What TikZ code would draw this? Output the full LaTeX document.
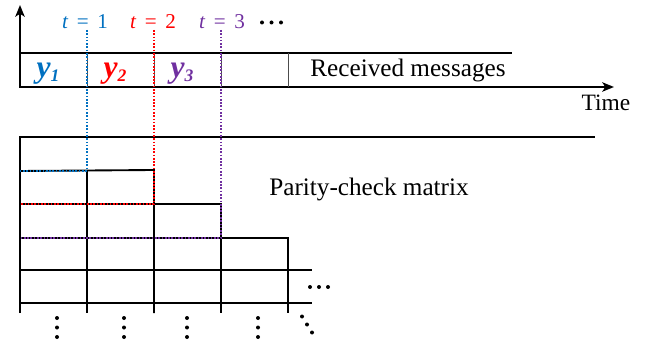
\documentclass[tikz,border=0pt]{standalone}
\usepackage{fontspec}
\setmainfont{Liberation Serif}
\usetikzlibrary{arrows.meta}
\definecolor{tblue}{RGB}{0,112,192}
\definecolor{tred}{RGB}{255,0,0}
\definecolor{tpurple}{RGB}{112,48,160}
\tikzset{
  gridline/.style={line width=1.6pt,black},
  thinline/.style={line width=0.8pt,black!70},
  axisline/.style={line width=1.6pt,black,-{Stealth[length=10pt,width=8pt,inset=2.5pt]}},
  timemark/.style={line width=1.5pt,dash pattern=on 1.4pt off 1.4pt},
  lbl/.style={inner sep=0pt,font=\fontsize{21.5}{23}\selectfont},
  timelbl/.style={inner sep=0pt,font=\fontsize{20}{22}\selectfont},
  tlbl/.style={inner sep=0pt,font=\fontsize{18}{20}\selectfont},
  ylbl/.style={inner sep=0pt,font=\fontsize{27}{29}\selectfont},
  dotmark/.style={fill=black,draw=none},
}
\newcommand{\ysym}[1]{\textbf{\textit{y}}\raisebox{-0.22ex}{\fontsize{15}{16}\selectfont\textbf{\textit{#1}}}}
\newcommand{\tval}[1]{\textit{t}\hspace{0.4em}=\hspace{0.4em}#1}
\begin{document}
\begin{tikzpicture}[x=0.03cm,y=-0.03cm]
\useasboundingbox (0,0) rectangle (645,345);

% axes
\coordinate (origin) at (20,88);
\coordinate (vtop) at (20,5);
\coordinate (htip) at (614,87);
\draw[axisline] (origin) -- (vtop);
\draw[axisline] (20,87) -- (htip);

% received messages row
\draw[gridline] (20,53) -- (512,53);
\foreach \x in {87,154,221,288} \draw[thinline] (\x,53) -- (\x,87);

\node[lbl,anchor=base] (recv) at (408,77) {Received messages};
\node[timelbl,anchor=base] (time) at (606,111) {Time};

\node[ylbl,anchor=base,text=tblue] (y1) at (48,78) {\ysym{1}};
\node[ylbl,anchor=base,text=tred] (y2) at (115,78) {\ysym{2}};
\node[ylbl,anchor=base,text=tpurple] (y3) at (182,78) {\ysym{3}};

% time labels
\node[tlbl,anchor=base,text=tblue] (t1) at (85,29) {\tval{1}};
\node[tlbl,anchor=base,text=tred] (t2) at (153,29) {\tval{2}};
\node[tlbl,anchor=base,text=tpurple] (t3) at (222,29) {\tval{3}};
\foreach \x in {262,271.5,281} \fill[dotmark] (\x,22.5) circle (2);

% parity-check matrix staircase
\draw[gridline] (20,313) -- (20,137) -- (595,137);
\draw[gridline] (20,171) -- (154,170) -- (154,313);
\draw[gridline] (87,171) -- (87,313);
\draw[gridline] (20,204) -- (221,204) -- (221,313);
\draw[gridline] (20,238) -- (288,238) -- (288,313);
\draw[gridline] (20,270) -- (312,270);
\draw[gridline] (20,303) -- (312,303);

\node[lbl,anchor=base] (pcm) at (369,196) {Parity-check matrix};

% time boundaries
\draw[timemark,tblue] (87,30) -- (87,171) -- (20,171);
\draw[timemark,tred] (154,30) -- (154,204) -- (20,204);
\draw[timemark,tpurple] (221,30) -- (221,238) -- (20,238);

% continuation dots
\foreach \x in {310,319,328} \fill[dotmark] (\x,287) circle (2);
\foreach \x in {57,124,187,258} {
  \foreach \y in {318,327.5,337} \fill[dotmark] (\x,\y) circle (2);
}
\fill[dotmark] (302,316.5) circle (2);
\fill[dotmark] (307,324.5) circle (2);
\fill[dotmark] (312,332.5) circle (2);
\end{tikzpicture}
\end{document}
